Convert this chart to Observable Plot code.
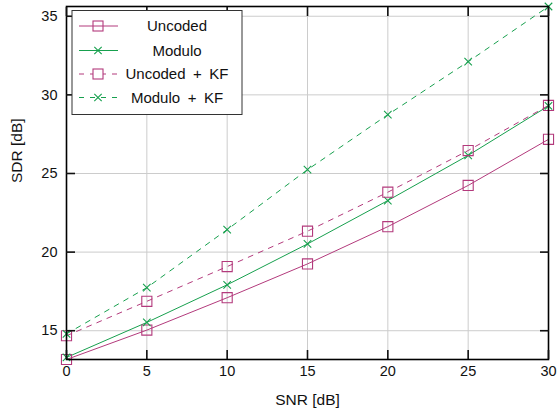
<!DOCTYPE html>
<html>
<head>
<meta charset="utf-8">
<script src="https://cdn.jsdelivr.net/npm/d3@7"></script>
<script src="https://cdn.jsdelivr.net/npm/@observablehq/plot@0.6"></script>
<style>
  html, body { margin: 0; padding: 0; background: #fff; }
  #chart { width: 558px; height: 415px; }
</style>
</head>
<body>
<div id="chart"></div>
<script>
// ---- data ----
const snr = [0, 5, 10, 15, 20, 25, 30];
const uncoded   = [13.17, 15.04, 17.10, 19.25, 21.62, 24.24, 27.17];
const modulo    = [13.30, 15.53, 17.92, 20.52, 23.28, 26.15, 29.30];
const uncodedKF = [14.68, 16.87, 19.08, 21.33, 23.81, 26.46, 29.33];
const moduloKF  = [14.80, 17.74, 21.43, 25.24, 28.74, 32.11, 35.62];
const seriesNames = ["Uncoded", "Modulo", "Uncoded + KF", "Modulo + KF"];
const xTicks = [0, 5, 10, 15, 20, 25, 30];
const yTicks = [15, 20, 25, 30, 35];
const xLabel = "SNR [dB]";
const yLabel = "SDR [dB]";

// ---- styles ----
const MAGENTA = "#b33a7c";
const GREEN = "#17a04e";
const FONT = "Liberation Sans, Arial, sans-serif";
const styleOf = {
  "Uncoded":      {color: MAGENTA, dash: null,  symbol: "square"},
  "Modulo":       {color: GREEN,   dash: null,  symbol: "times"},
  "Uncoded + KF": {color: MAGENTA, dash: "5,6", symbol: "square"},
  "Modulo + KF":  {color: GREEN,   dash: "5,6", symbol: "times"}
};
const seriesValues = [uncoded, modulo, uncodedKF, moduloKF];
const rows = [];
seriesNames.forEach((name, i) => {
  snr.forEach((x, j) => rows.push({series: name, snr: x, sdr: seriesValues[i][j]}));
});
const allY = seriesValues.flat();
const yDomain = d3.extent(allY);

const marks = [
  Plot.gridX(xTicks, {stroke: "#cccccc", strokeOpacity: 1, strokeWidth: 1}),
  Plot.gridY(yTicks, {stroke: "#cccccc", strokeOpacity: 1, strokeWidth: 1})
];
seriesNames.forEach(name => {
  const s = styleOf[name];
  const d = rows.filter(r => r.series === name);
  marks.push(Plot.line(d, {x: "snr", y: "sdr", stroke: s.color, strokeWidth: 1, strokeDasharray: s.dash || undefined}));
});
seriesNames.forEach(name => {
  const s = styleOf[name];
  const d = rows.filter(r => r.series === name);
  marks.push(Plot.dot(d, {x: "snr", y: "sdr", stroke: s.color, strokeWidth: 1.1, symbol: s.symbol, r: s.symbol === "square" ? 5.7 : 3.5, fill: "none"}));
});
marks.push(
  Plot.frame({stroke: "black", strokeWidth: 1.6}),
  // tick labels + axis titles
  Plot.axisX(xTicks, {anchor: "bottom", tickSize: 0, tickPadding: 6, label: null, fontSize: 14.5}),
  Plot.axisY(yTicks, {anchor: "left", tickSize: 0, tickPadding: 9, label: null, fontSize: 14.5}),
  Plot.text([xLabel], {frameAnchor: "bottom", dy: 45, fontSize: 15.5, fill: "#111"}),
  Plot.text([yLabel], {frameAnchor: "left", dx: -49, rotate: -90, fontSize: 15.5, fill: "#111"}),
  // inward tick marks on all four sides
  Plot.axisX(xTicks, {anchor: "bottom", tickSize: 9, dy: -9, tickFormat: () => "", label: null, strokeWidth: 1.6}),
  Plot.axisX(xTicks, {anchor: "top", tickSize: 9, dy: 9, tickFormat: () => "", label: null, strokeWidth: 1.6}),
  Plot.axisY(yTicks, {anchor: "left", tickSize: 9, dx: 9, tickFormat: () => "", label: null, strokeWidth: 1.6}),
  Plot.axisY(yTicks, {anchor: "right", tickSize: 9, dx: -9, tickFormat: () => "", label: null, strokeWidth: 1.6})
);

const chart = Plot.plot({
  width: 558,
  height: 415,
  marginLeft: 66,
  marginRight: 10,
  marginTop: 6,
  marginBottom: 56,
  style: {fontFamily: FONT, fontSize: "14.5px", color: "#111", background: "white"},
  x: {domain: [0, 30]},
  y: {domain: yDomain},
  marks
});
document.getElementById("chart").appendChild(chart);

// ---- legend (inside the plot, top-left) ----
const svg = d3.select(chart);
const lg = svg.append("g").attr("font-family", FONT).attr("font-size", "15px");
lg.append("rect").attr("x", 72).attr("y", 10.5).attr("width", 170).attr("height", 104)
  .attr("fill", "white").attr("stroke", "#333").attr("stroke-width", 1);
const rowY = [26, 50.5, 74, 97.5];
seriesNames.forEach((name, i) => {
  const s = styleOf[name];
  const y = rowY[i];
  const g = lg.append("g");
  g.append("line").attr("x1", 79).attr("x2", 118).attr("y1", y).attr("y2", y)
    .attr("stroke", s.color).attr("stroke-width", 1)
    .attr("stroke-dasharray", s.dash ? "5,6" : null);
  if (s.symbol === "square") {
    g.append("rect").attr("x", 93).attr("y", y - 5).attr("width", 10).attr("height", 10)
      .attr("fill", s.dash ? "white" : "none").attr("stroke", s.color).attr("stroke-width", 1.1);
  } else {
    g.append("path").attr("d", `M${98-3.7},${y-3.7}L${98+3.7},${y+3.7}M${98-3.7},${y+3.7}L${98+3.7},${y-3.7}`)
      .attr("stroke", s.color).attr("stroke-width", 1.1);
  }
  g.append("text").attr("x", 177).attr("y", y).attr("dy", "0.35em")
    .attr("text-anchor", "middle").attr("fill", "#111").text(name.replace(" + ", "\u2002+\u2002"));
});
</script>
</body>
</html>
